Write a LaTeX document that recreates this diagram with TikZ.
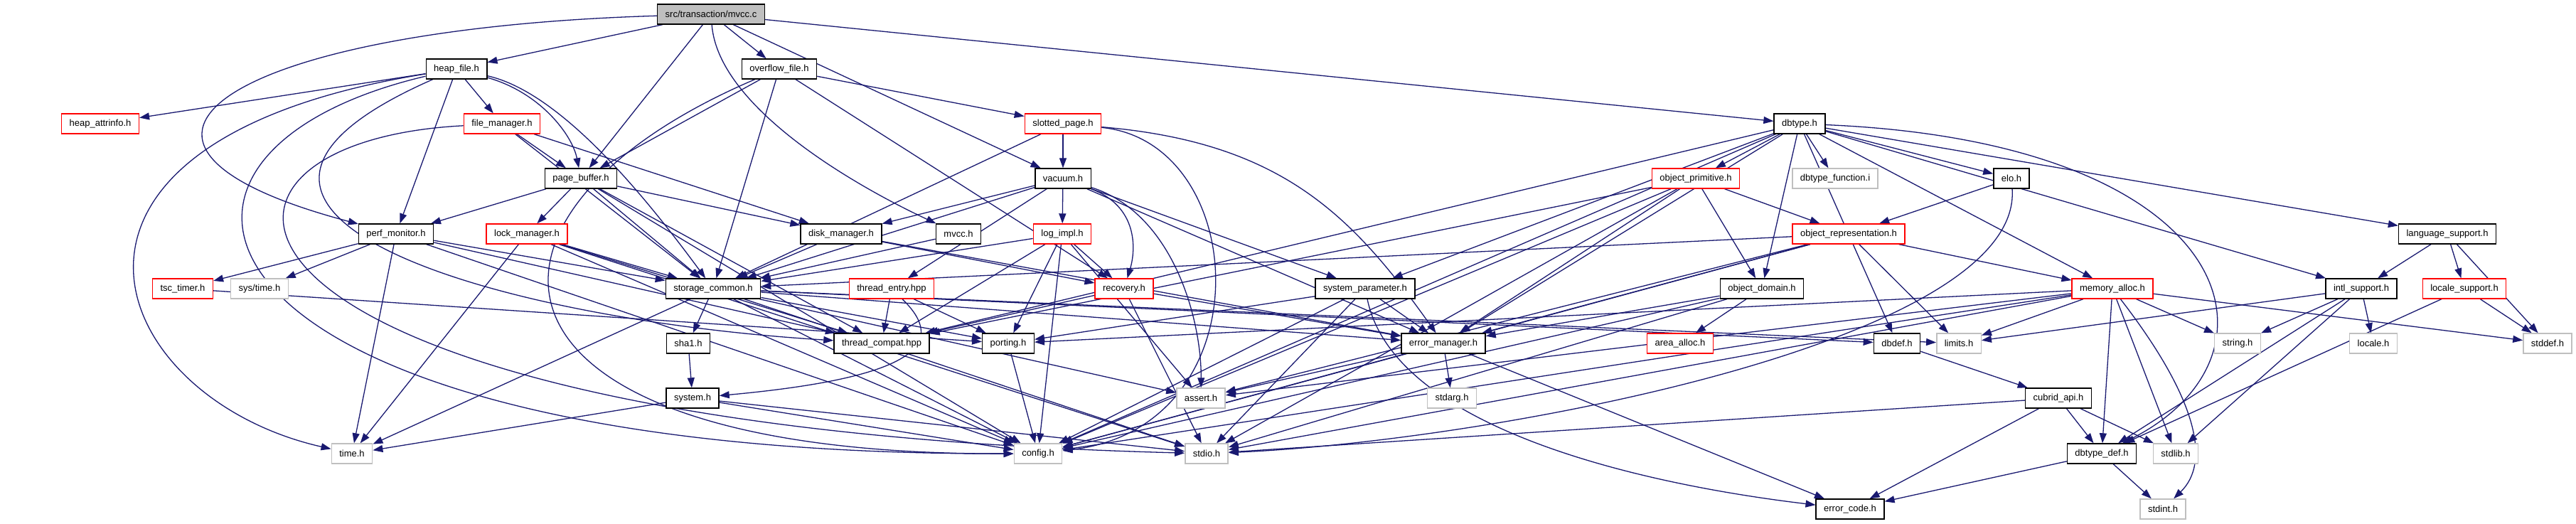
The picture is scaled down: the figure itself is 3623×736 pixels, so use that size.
\documentclass[tikz,border=0pt]{standalone}
\usepackage{fontspec}
\setmainfont{Liberation Sans}
\usepackage{tikz}
\usetikzlibrary{arrows.meta,backgrounds}
\definecolor{edgeblue}{HTML}{191970}
\definecolor{extgray}{HTML}{BFBFBF}
\definecolor{hdrredc}{HTML}{FF0000}

\begin{document}
\begin{tikzpicture}[x=1pt,y=-1pt,line cap=round,
  hdr/.style={draw=black,fill=white,line width=1.4pt,minimum height=28pt,inner xsep=11pt,inner ysep=0pt,font=\fontsize{13}{15}\selectfont},
  hdrred/.style={hdr,draw=hdrredc},
  hdrext/.style={hdr,draw=extgray},
  hdrcur/.style={hdr,fill=extgray},
  every edge/.style={draw=edgeblue,line width=1.3pt,-{Triangle[length=14pt,width=10pt]}}]
\useasboundingbox (0,0) rectangle (3623,736);
\node[hdrcur] (mvccc) at (1000,20) {src/transaction/mvcc.c};
\node[hdr] (heapfile) at (642,97) {heap\_file.h};
\node[hdr] (overflow) at (1096,97) {overflow\_file.h};
\node[hdrred] (heapattr) at (141,174) {heap\_attrinfo.h};
\node[hdrred] (filemgr) at (706,174) {file\_manager.h};
\node[hdrred] (slotted) at (1495,174) {slotted\_page.h};
\node[hdr] (dbtype) at (2531,174) {dbtype.h};
\node[hdr] (pgbuf) at (817,251) {page\_buffer.h};
\node[hdr] (vacuum) at (1495,251) {vacuum.h};
\node[hdrred] (objprim) at (2385,251) {object\_primitive.h};
\node[hdrext] (dbtfunc) at (2581,251) {dbtype\_function.i};
\node[hdr] (elo) at (2829,251) {elo.h};
\node[hdr] (perfmon) at (557,329) {perf\_monitor.h};
\node[hdrred] (lockmgr) at (741,329) {lock\_manager.h};
\node[hdr] (diskmgr) at (1183,329) {disk\_manager.h};
\node[hdr] (mvcch) at (1348,329) {mvcc.h};
\node[hdrred] (logimpl) at (1494,329) {log\_impl.h};
\node[hdrred] (objrep) at (2600,329) {object\_representation.h};
\node[hdr] (langsup) at (3442,329) {language\_support.h};
\node[hdrred] (tsc) at (257,406) {tsc\_timer.h};
\node[hdrext] (systime) at (365,406) {sys/time.h};
\node[hdr] (stcommon) at (1003,406) {storage\_common.h};
\node[hdrred] (thentry) at (1254,406) {thread\_entry.hpp};
\node[hdrred] (recovery) at (1581,406) {recovery.h};
\node[hdr] (sysparam) at (1920,406) {system\_parameter.h};
\node[hdr] (objdom) at (2478,406) {object\_domain.h};
\node[hdrred] (memalloc) at (2971,406) {memory\_alloc.h};
\node[hdr] (intl) at (3321,406) {intl\_support.h};
\node[hdrred] (localesup) at (3466,406) {locale\_support.h};
\node[hdr] (sha) at (968,483) {sha1.h};
\node[hdr] (thcompat) at (1240,483) {thread\_compat.hpp};
\node[hdr] (porting) at (1418,483) {porting.h};
\node[hdr] (errmgr) at (2030,483) {error\_manager.h};
\node[hdrred] (areaalloc) at (2363,483) {area\_alloc.h};
\node[hdr] (dbdef) at (2668,483) {dbdef.h};
\node[hdrext] (limits) at (2755,483) {limits.h};
\node[hdrext] (string) at (3147,483) {string.h};
\node[hdrext] (locale) at (3338,483) {locale.h};
\node[hdrext] (stddef) at (3583,483) {stddef.h};
\node[hdr] (system) at (974,560) {system.h};
\node[hdrext] (assert) at (1689,560) {assert.h};
\node[hdrext] (stdarg) at (2042,560) {stdarg.h};
\node[hdr] (cubapi) at (2895,560) {cubrid\_api.h};
\node[hdrext] (time) at (495,638) {time.h};
\node[hdrext] (config) at (1460,638) {config.h};
\node[hdrext] (stdio) at (1697,638) {stdio.h};
\node[hdr] (dbtdef) at (2956,638) {dbtype\_def.h};
\node[hdrext] (stdlib) at (3060,638) {stdlib.h};
\node[hdr] (errcode) at (2602,716) {error\_code.h};
\node[hdrext] (stdint) at (3042,716) {stdint.h};
\begin{scope}[on background layer]
\path (mvccc) edge (heapfile) edge (pgbuf) edge (overflow) edge (vacuum) edge (dbtype)
  edge[to path={.. controls (1010,150) and (1200,260) .. (\tikztotarget)}] (mvcch)
  edge[to path={.. controls (330,40) and (70,200) .. (\tikztotarget)}] (perfmon);
\path (heapfile) edge (heapattr) edge (filemgr) edge (perfmon)
  edge[to path={.. controls (760,130) and (805,190) .. (\tikztotarget)}] (pgbuf)
  edge[to path={.. controls (790,130) and (910,280) .. (\tikztotarget)}] (stcommon)
  edge[to path={.. controls (0,200) and (150,560) .. (\tikztotarget)}] (time)
  edge[to path={.. controls (120,220) and (260,640) .. (\tikztotarget)}] (config)
  edge[to path={.. controls (180,300) and (700,450) .. (\tikztotarget)}] (thcompat);
\path (overflow) edge (slotted) edge (pgbuf) edge (stcommon) edge (recovery)
  edge[to path={.. controls (620,300) and (640,640) .. (\tikztotarget)}] (config);
\path (filemgr) edge (pgbuf) edge (diskmgr) edge (stcommon)
  edge[to path={.. controls (200,200) and (250,600) .. (\tikztotarget)}] (stdio);
\path (slotted) edge (vacuum) edge (stcommon)
  edge[to path={.. controls (1800,200) and (1900,300) .. (\tikztotarget)}] (errmgr)
  edge[to path={.. controls (1760,200) and (1780,600) .. (\tikztotarget)}] (config);
\path (dbtype) edge (objprim) edge (dbtfunc) edge (elo) edge (langsup) edge (intl) edge (memalloc) edge (objdom)
  edge (sysparam) edge (errmgr) edge (dbdef) edge (config) edge (thcompat)
  edge[to path={.. controls (3150,200) and (3230,500) .. (\tikztotarget)}] (dbtdef);
\path (pgbuf) edge (perfmon) edge (lockmgr) edge (diskmgr) edge (stcommon) edge (thcompat) edge (config);
\path (vacuum) edge (diskmgr) edge (logimpl) edge (thentry) edge (sysparam) edge (stcommon) edge (errmgr)
  edge[to path={.. controls (1600,290) and (1598,350) .. (\tikztotarget)}] (recovery)
  edge[to path={.. controls (1650,300) and (1690,450) .. (\tikztotarget)}] (assert);
\path (objprim) edge (objrep) edge (objdom) edge (thcompat) edge (errmgr) edge (config) edge (stdio);
\path (elo) edge (objrep)
  edge[to path={.. controls (2845,480) and (2100,620) .. (\tikztotarget)}] (stdio);
\path (perfmon) edge (tsc) edge (systime) edge (time) edge (stcommon) edge (thcompat) edge (config);
\path (lockmgr) edge (stcommon) edge (thcompat) edge (time) edge (config) edge (stdio);
\path (diskmgr) edge (stcommon) edge (recovery) edge (errmgr);
\path (mvcch) edge (stcommon);
\path (logimpl) edge (stcommon) edge (recovery) edge (porting) edge (config) edge (assert) edge (thcompat);
\path (objrep) edge (memalloc) edge (stcommon) edge (errmgr) edge (limits) edge (assert) edge (config);
\path (langsup) edge (intl) edge (localesup) edge (stddef);
\path (tsc) edge (porting);
\path (stcommon) edge (sha) edge (porting) edge (dbdef) edge (limits) edge (time) edge (config) edge (stdio) edge (assert) edge (errmgr);
\path (thentry) edge (thcompat) edge (porting)
  edge[to path={.. controls (1330,480) and (1300,530) .. (\tikztotarget)}] (system);
\path (recovery) edge (stdio) edge (thcompat) edge (errmgr);
\path (sysparam) edge (errmgr) edge (config) edge (stdio) edge (porting)
  edge[to path={.. controls (1960,600) and (2300,680) .. (\tikztotarget)}] (errcode);
\path (objdom) edge (areaalloc) edge (errmgr) edge (config) edge (stdio);
\path (memalloc) edge (limits) edge (string) edge (stddef) edge (stdlib) edge (dbtdef) edge (porting) edge (assert) edge (config) edge (stdio)
  edge[to path={.. controls (3090,560) and (3110,650) .. (\tikztotarget)}] (stdint);
\path (intl) edge (locale) edge (string) edge (limits) edge (stdlib) edge (dbtdef);
\path (localesup) edge (stddef) edge (dbtdef);
\path (sha) edge (system);
\path (system) edge (time) edge (config) edge (stdio);
\path (porting) edge (config);
\path (errmgr) edge (stdarg) edge (assert) edge (config) edge (errcode);
\path (dbdef) edge (cubapi);
\path (cubapi) edge (dbtdef) edge (errcode) edge (stdlib) edge (stdio);
\path (dbtdef) edge (errcode) edge (stdint);
\end{scope}
\end{tikzpicture}
\end{document}
